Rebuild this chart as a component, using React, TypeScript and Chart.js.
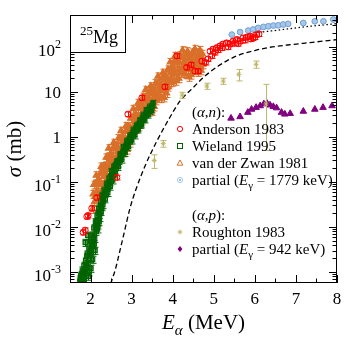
import React, { useEffect, useRef } from "react";
import { Chart, registerables } from "chart.js";

Chart.register(...registerables);

const FONT = '"Liberation Serif", "Times New Roman", Times, serif';

// ---------------- axes ----------------
const X_MIN = 1.5;
const X_MAX = 8;
const Y_MIN = 5.7e-4;
const Y_MAX = 510;
const X_TICKS = [2, 3, 4, 5, 6, 7, 8];
const X_TICK_LABELS = ["2", "3", "4", "5", "6", "7", "8"];
const X_MINOR = [2.5, 3.5, 4.5, 5.5, 6.5, 7.5];
const Y_TICKS = [1e-3, 1e-2, 1e-1, 1, 10, 100];
const Y_TICK_BASE = ["10", "10", "10", "1", "10", "10"];
const Y_TICK_EXP = ["-3", "-2", "-1", "", "", "2"];

// ---------------- (alpha,n): Anderson 1983 ----------------
const AND_E = [1.82, 1.87, 1.91, 1.94, 2.03, 2.15, 2.64, 2.91, 3.25, 3.81,
  4.10, 4.34, 4.45, 4.54, 4.62, 4.71, 4.80, 4.86, 4.91, 4.95,
  4.98, 5.02, 5.07, 5.10, 5.15, 5.20, 5.22, 5.31, 5.35, 5.39,
  5.47, 5.50, 5.56, 5.60, 5.64, 5.71, 5.75, 5.80, 5.88, 5.90,
  5.95, 6.00, 6.04, 6.10];
const AND_S = [0.0076, 0.0085, 0.017, 0.018, 0.026, 0.045, 0.126, 3.2, 7.4, 13,
  63, 35, 40, 29, 29, 48, 45, 54, 80, 63,
  89, 75, 96, 85, 105, 95, 115, 123, 100, 115,
  134, 120, 146, 118, 134, 158, 140, 165, 173, 150,
  158, 165, 187, 193];
const AND_REL_ERR = 0.12;

// ---------------- Wieland 1995 ----------------
const WIE_E = [1.74, 1.76, 1.78, 1.80, 1.82, 1.84, 1.85, 1.86, 1.87, 1.88,
  1.90, 1.92, 1.93, 1.94, 1.95, 1.96, 1.97, 1.98, 2.00, 2.01,
  2.02, 2.04, 2.05, 2.06, 2.08, 2.10, 2.11, 2.12, 2.14, 2.16,
  2.18, 2.20, 2.22, 2.24, 2.26, 2.28, 2.30, 2.33, 2.36, 2.39,
  2.42, 2.45, 2.48, 2.51, 2.54, 2.57, 2.60, 2.64, 2.68, 2.72,
  2.76, 2.80, 2.84, 2.88, 2.92, 2.96, 3.00, 3.04, 3.08, 3.12,
  3.16, 3.20, 3.24, 3.28, 3.32, 3.36, 3.40, 3.44, 3.48, 3.52,
  1.75, 1.77, 1.79, 1.81, 1.83, 1.89, 1.91, 1.99, 2.03, 2.07,
  2.09, 2.13, 2.15, 2.17, 2.19, 2.21, 2.23, 2.25, 2.27, 2.29,
  2.31, 2.35, 2.38, 2.41, 2.44, 2.47, 2.50, 2.53, 2.56, 2.59,
  2.62, 2.66, 2.70, 2.74, 2.78, 2.82, 2.86, 2.90, 2.94, 2.98,
  3.02, 3.06, 3.10, 3.14, 3.18, 3.22, 3.26, 3.30, 3.34, 3.38,
  3.42, 3.46, 3.50];
const WIE_S = [0.00062, 0.00085, 0.00070, 0.0011, 0.00075, 0.0014, 0.00062, 0.0009, 0.0045, 0.0018,
  0.0012, 0.0025, 0.0065, 0.0015, 0.00080, 0.0034, 0.0010, 0.0020, 0.0048, 0.0012,
  0.0028, 0.0065, 0.0019, 0.0040, 0.0095, 0.0055, 0.0030, 0.013, 0.0080, 0.018,
  0.011, 0.026, 0.016, 0.036, 0.022, 0.050, 0.031, 0.065, 0.042, 0.09,
  0.058, 0.12, 0.08, 0.17, 0.11, 0.22, 0.15, 0.28, 0.22, 0.40,
  0.32, 0.58, 0.45, 0.80, 0.62, 1.05, 0.85, 1.4, 1.1, 1.8,
  1.5, 2.3, 1.9, 3.0, 2.5, 3.8, 3.2, 4.6, 3.9, 5.5,
  0.0007, 0.0006, 0.0009, 0.0008, 0.0010, 0.0014, 0.0022, 0.0030, 0.0045, 0.0060,
  0.0042, 0.010, 0.013, 0.0090, 0.020, 0.013, 0.024, 0.030, 0.028, 0.040,
  0.045, 0.055, 0.06, 0.075, 0.09, 0.10, 0.13, 0.14, 0.18, 0.19,
  0.24, 0.26, 0.30, 0.38, 0.45, 0.50, 0.62, 0.70, 0.85, 0.95,
  1.15, 1.25, 1.5, 1.6, 1.9, 2.0, 2.5, 2.6, 3.2, 3.4,
  4.0, 4.2, 4.8];
const WIE_REL_ERR = 0.18;

// ---------------- van der Zwan 1981 ----------------
const ZWA_E = [2.05, 2.08, 2.11, 2.14, 2.17, 2.20, 2.23, 2.26, 2.29, 2.32,
  2.35, 2.38, 2.41, 2.44, 2.47, 2.50, 2.53, 2.56, 2.59, 2.62,
  2.65, 2.68, 2.71, 2.74, 2.77, 2.80, 2.83, 2.86, 2.89, 2.92,
  2.95, 2.98, 3.01, 3.04, 3.07, 3.10, 3.13, 3.16, 3.19, 3.22,
  3.25, 3.28, 3.31, 3.34, 3.37, 3.40, 3.43, 3.46, 3.49, 3.52,
  3.55, 3.58, 3.61, 3.64, 3.67, 3.70, 3.73, 3.76, 3.79, 3.82,
  3.85, 3.88, 3.91, 3.94, 3.97, 4.00, 4.03, 4.06, 4.09, 4.12,
  4.15, 4.18, 4.21, 4.24, 4.27, 4.30, 4.33, 4.36, 4.39, 4.42,
  4.45, 4.48, 4.51, 4.54, 4.57, 4.60, 4.63, 4.66, 4.69, 4.72,
  2.065, 2.095, 2.125, 2.155, 2.185, 2.215, 2.245, 2.275, 2.305, 2.335,
  2.365, 2.395, 2.425, 2.455, 2.485, 2.515, 2.545, 2.575, 2.605, 2.635,
  2.665, 2.695, 2.725, 2.755, 2.785, 2.815, 2.845, 2.875, 2.905, 2.935,
  2.965, 2.995, 3.025, 3.055, 3.085, 3.115, 3.145, 3.175, 3.205, 3.235,
  3.265, 3.295, 3.325, 3.355, 3.385, 3.415, 3.445, 3.475, 3.505, 3.535,
  3.565, 3.595, 3.625, 3.655, 3.685, 3.715, 3.745, 3.775, 3.805, 3.835,
  3.865, 3.895, 3.925, 3.955, 3.985, 4.015, 4.045, 4.075, 4.105, 4.135,
  4.165, 4.195, 4.225, 4.255, 4.285, 4.315, 4.345, 4.375, 4.405, 4.435,
  4.465, 4.495, 4.525, 4.555, 4.585, 4.615, 4.645, 4.675, 4.705, 4.735];
const ZWA_S = [0.025, 0.087, 0.047, 0.14, 0.051, 0.116, 0.10, 0.22, 0.068, 0.225,
  0.098, 0.35, 0.19, 0.56, 0.19, 0.42, 0.355, 0.74, 0.215, 0.65,
  0.275, 0.94, 0.48, 1.37, 0.455, 0.98, 0.82, 1.75, 0.52, 1.74,
  0.74, 2.6, 1.4, 4.2, 1.43, 3.25, 2.75, 5.7, 1.7, 5.5,
  2.3, 7.8, 4.0, 11.1, 3.6, 7.8, 6.5, 13.3, 3.75, 11.6,
  4.7, 15.6, 7.8, 22, 7.3, 15.6, 13, 26.6, 7.5, 23.2,
  9.4, 31.5, 16, 46, 16.3, 36.4, 31, 63, 17.5, 52,
  20, 65, 31, 84, 26, 53, 42, 80, 21.5, 62,
  24, 75, 36, 90, 30, 60, 47, 85, 30, 70,
  0.054, 0.036, 0.089, 0.061, 0.086, 0.053, 0.16, 0.088, 0.169, 0.132,
  0.214, 0.143, 0.351, 0.242, 0.325, 0.192, 0.568, 0.293, 0.538, 0.383,
  0.6, 0.385, 0.9, 0.585, 0.77, 0.45, 1.31, 0.69, 1.31, 1.02,
  1.62, 1.09, 2.63, 1.8, 2.42, 1.5, 4.4, 2.25, 4.25, 3.23,
  5.04, 3.22, 7.5, 4.77, 6.16, 3.6, 10.4, 5.25, 9.4, 6.8,
  10.3, 6.44, 14.7, 9.45, 12.3, 7.2, 20.8, 10.5, 18.8, 13.6,
  20.4, 13, 30, 19.8, 27.5, 16.8, 49.6, 24.8, 43.8, 30.6,
  44.4, 26.6, 58.5, 36, 44, 24.6, 67, 31.5, 54, 36.5,
  52.8, 30.8, 67.5, 40.5, 50.6, 27.6, 75, 35, 60, 40.8];
const ZWA_REL_ERR = 0.2;

// ---------------- partial (E_gamma = 1779 keV) ----------------
const P1779_E = [5.44, 5.64, 5.84, 5.96, 6.08, 6.21, 6.33, 6.45, 6.57, 6.69, 6.81, 7.18, 7.46, 7.67, 7.91];
const P1779_S = [187, 213, 230, 243, 263, 277, 287, 297, 301, 314, 324, 339, 370, 370, 405];

// ---------------- (alpha,p): Roughton 1983 ----------------
const ROU_E = [3.55, 3.77, 4.23, 4.83, 5.23, 5.61, 6.03, 6.27];
const ROU_S = [0.30, 0.71, 8.5, 13.5, 17.4, 24.5, 41, 5.4];
const ROU_ERR_LO = [0.10, 0.12, 1.3, 2.1, 2.7, 7, 7.5, 4.9];
const ROU_ERR_HI = [0.10, 0.12, 1.3, 2.1, 2.7, 7, 7.5, 9.3];

// ---------------- partial (E_gamma = 942 keV) ----------------
const P942_E = [5.42, 5.64, 5.83, 5.92, 6.03, 6.13, 6.22, 6.30, 6.37, 6.45, 6.53, 6.65, 6.73, 6.86, 7.18, 7.46, 7.66, 7.88];
const P942_S = [2.6, 2.8, 3.5, 4.1, 4.5, 4.9, 5.4, 5.5, 5.1, 4.7, 4.4, 3.5, 3.2, 3.3, 3.7, 4.1, 4.5, 4.9];

// ---------------- model curves ----------------
const DASH_E = [2.49, 2.55, 2.6, 2.7, 2.8, 2.96, 3.1, 3.33, 3.6, 3.93, 4.18, 4.5, 4.75, 5.1, 5.56, 6.0, 6.37, 6.8, 7.18, 7.6, 8.0];
const DASH_S = [5.5e-4, 8e-4, 1.1e-3, 2.6e-3, 6.3e-3, 0.026, 0.066, 0.23, 0.76, 2.7, 6.3, 12.5, 21, 37, 63, 83, 98, 110, 120, 132, 145];
const DOT_E = [6.0, 6.37, 6.8, 7.2, 7.6, 8.0];
const DOT_S = [205, 224, 250, 278, 303, 328];

// ---------------- colours ----------------
const RED = "#ff0000";
const GREEN = "#006400";
const ORANGE = "#d9702a";
const BLUE_FILL = "#a6c6ea";
const BLUE_EDGE = "#6f9fd6";
const KHAKI = "#bdb76b";
const PURPLE = "#800080";

type Seg = { t: string; it?: boolean; sub?: boolean; sup?: boolean };

function segSize(s: Seg, size: number) {
  return s.sub || s.sup ? Math.round(size * 0.7) : size;
}
function segFont(s: Seg, size: number) {
  return `${s.it ? "italic " : ""}${segSize(s, size)}px ${FONT}`;
}
function richWidth(ctx: CanvasRenderingContext2D, segs: Seg[], size: number) {
  let w = 0;
  for (const s of segs) {
    ctx.font = segFont(s, size);
    w += ctx.measureText(s.t).width;
  }
  return w;
}
function drawRich(ctx: CanvasRenderingContext2D, segs: Seg[], x: number, y: number, size: number, align: "left" | "center" | "right") {
  const w = richWidth(ctx, segs, size);
  let cx = align === "left" ? x : align === "center" ? x - w / 2 : x - w;
  ctx.textAlign = "left";
  ctx.textBaseline = "alphabetic";
  for (const s of segs) {
    ctx.font = segFont(s, size);
    const dy = s.sub ? size * 0.28 : s.sup ? -size * 0.42 : 0;
    ctx.fillText(s.t, cx, y + dy);
    cx += ctx.measureText(s.t).width;
  }
}

const pts = (E: number[], S: number[]) => E.map((x, i) => ({ x, y: S[i] }));
const relErr = (S: number[], r: number) => S.map((v) => v * r);

const errorBarPlugin = {
  id: "errBars",
  beforeDatasetDraw(chart: any, args: any) {
    const ds: any = chart.data.datasets[args.index];
    if (!ds.errLo) return;
    const { ctx, chartArea: a } = chart;
    const xs = chart.scales.x;
    const ys = chart.scales.y;
    ctx.save();
    ctx.beginPath();
    ctx.rect(a.left, a.top, a.right - a.left, a.bottom - a.top);
    ctx.clip();
    ctx.strokeStyle = ds.errColor;
    ctx.lineWidth = 1;
    ctx.beginPath();
    ds.data.forEach((p: any, i: number) => {
      const px = Math.round(xs.getPixelForValue(p.x)) + 0.5;
      const lo = Math.max(p.y - ds.errLo[i], Y_MIN * 0.3);
      const y1 = ys.getPixelForValue(lo);
      const y2 = ys.getPixelForValue(p.y + ds.errHi[i]);
      const c = ds.capHalf;
      ctx.moveTo(px, y1);
      ctx.lineTo(px, y2);
      ctx.moveTo(px - c, y1);
      ctx.lineTo(px + c, y1);
      ctx.moveTo(px - c, y2);
      ctx.lineTo(px + c, y2);
    });
    ctx.stroke();
    ctx.restore();
  },
};

function drawMarker(ctx: CanvasRenderingContext2D, kind: string, x: number, y: number) {
  ctx.save();
  ctx.lineWidth = 1;
  if (kind === "circle") {
    ctx.strokeStyle = RED;
    ctx.beginPath();
    ctx.arc(x, y, 2.6, 0, Math.PI * 2);
    ctx.stroke();
  } else if (kind === "square") {
    ctx.strokeStyle = GREEN;
    ctx.strokeRect(x - 2.5, y - 2.5, 5, 5);
  } else if (kind === "triangle") {
    ctx.strokeStyle = ORANGE;
    ctx.beginPath();
    ctx.moveTo(x, y - 3);
    ctx.lineTo(x + 2.8, y + 2.2);
    ctx.lineTo(x - 2.8, y + 2.2);
    ctx.closePath();
    ctx.stroke();
  } else if (kind === "blue") {
    ctx.strokeStyle = BLUE_FILL;
    ctx.beginPath();
    ctx.arc(x, y, 2.6, 0, Math.PI * 2);
    ctx.stroke();
    ctx.fillStyle = BLUE_EDGE;
    ctx.beginPath();
    ctx.arc(x, y, 0.9, 0, Math.PI * 2);
    ctx.fill();
  } else if (kind === "star") {
    ctx.strokeStyle = KHAKI;
    ctx.beginPath();
    for (let k = 0; k < 3; k++) {
      const ang = (k * Math.PI) / 3 + Math.PI / 2;
      ctx.moveTo(x - 2.5 * Math.cos(ang), y - 2.5 * Math.sin(ang));
      ctx.lineTo(x + 2.5 * Math.cos(ang), y + 2.5 * Math.sin(ang));
    }
    ctx.stroke();
  } else if (kind === "diamond") {
    ctx.fillStyle = PURPLE;
    ctx.beginPath();
    ctx.moveTo(x, y - 3);
    ctx.lineTo(x + 2.4, y);
    ctx.lineTo(x, y + 3);
    ctx.lineTo(x - 2.4, y);
    ctx.closePath();
    ctx.fill();
  }
  ctx.restore();
}

const LEGEND_ROWS: { y: number; mark?: string; segs: Seg[] }[] = [
  { y: 112, segs: [{ t: "(" }, { t: "α", it: true }, { t: "," }, { t: "n", it: true }, { t: "):" }] },
  { y: 129, mark: "circle", segs: [{ t: "Anderson 1983" }] },
  { y: 146, mark: "square", segs: [{ t: "Wieland 1995" }] },
  { y: 163, mark: "triangle", segs: [{ t: "van der Zwan 1981" }] },
  { y: 180, mark: "blue", segs: [{ t: "partial (" }, { t: "E", it: true }, { t: "γ", sub: true }, { t: " = 1779 keV)" }] },
  { y: 215, segs: [{ t: "(" }, { t: "α", it: true }, { t: "," }, { t: "p", it: true }, { t: "):" }] },
  { y: 232, mark: "star", segs: [{ t: "Roughton 1983" }] },
  { y: 249, mark: "diamond", segs: [{ t: "partial (" }, { t: "E", it: true }, { t: "γ", sub: true }, { t: " = 942 keV)" }] },
];

const decorPlugin = {
  id: "decor",
  afterDatasetsDraw(chart: any) {
    const { ctx, chartArea: a } = chart;
    const xs = chart.scales.x;
    const ys = chart.scales.y;
    ctx.save();
    ctx.strokeStyle = "#000";
    ctx.fillStyle = "#000";
    ctx.lineWidth = 1;
    const MAJ = 8;
    const MIN = 4.5;
    ctx.beginPath();
    const xt = (v: number, len: number) => {
      const px = Math.round(xs.getPixelForValue(v)) + 0.5;
      ctx.moveTo(px, a.bottom);
      ctx.lineTo(px, a.bottom - len);
      ctx.moveTo(px, a.top);
      ctx.lineTo(px, a.top + len);
    };
    X_TICKS.forEach((v) => xt(v, MAJ));
    X_MINOR.forEach((v) => xt(v, MIN));
    const yt = (v: number, len: number) => {
      const py = Math.round(ys.getPixelForValue(v)) + 0.5;
      if (py < a.top || py > a.bottom) return;
      ctx.moveTo(a.left, py);
      ctx.lineTo(a.left + len, py);
      ctx.moveTo(a.right, py);
      ctx.lineTo(a.right - len, py);
    };
    for (let e = -4; e <= 2; e++) {
      for (let k = 2; k <= 9; k++) yt(k * Math.pow(10, e), MIN);
    }
    Y_TICKS.forEach((v) => yt(v, MAJ));
    ctx.stroke();
    ctx.strokeRect(a.left + 0.5, a.top + 0.5, a.right - a.left - 1, a.bottom - a.top - 1);

    // nucleus label box
    ctx.fillStyle = "#fff";
    ctx.fillRect(a.left + 0.5, a.top + 0.5, 55, 37);
    ctx.strokeRect(a.left + 0.5, a.top + 0.5, 55, 37);
    ctx.fillStyle = "#000";
    ctx.textAlign = "left";
    ctx.textBaseline = "alphabetic";
    ctx.font = `13px ${FONT}`;
    ctx.fillText("25", a.left + 10, a.top + 20);
    const w25 = ctx.measureText("25").width;
    ctx.font = `18px ${FONT}`;
    ctx.fillText("Mg", a.left + 10 + w25, a.top + 28);

    // tick labels
    X_TICKS.forEach((v, i) => {
      ctx.font = `17px ${FONT}`;
      ctx.textAlign = "center";
      ctx.fillText(X_TICK_LABELS[i], xs.getPixelForValue(v), a.bottom + 21);
    });
    Y_TICKS.forEach((v, i) => {
      const py = ys.getPixelForValue(v);
      const exp = Y_TICK_EXP[i];
      const right = a.left - 9;
      ctx.textAlign = "left";
      if (exp) {
        ctx.font = `12px ${FONT}`;
        const we = ctx.measureText(exp).width;
        ctx.font = `17px ${FONT}`;
        const wb = ctx.measureText(Y_TICK_BASE[i]).width;
        const x0 = right - we - wb;
        ctx.fillText(Y_TICK_BASE[i], x0, py + 9);
        ctx.font = `12px ${FONT}`;
        ctx.fillText(exp, x0 + wb, py + 1);
      } else {
        ctx.font = `17px ${FONT}`;
        ctx.textAlign = "right";
        ctx.fillText(Y_TICK_BASE[i], right, py + 6);
      }
    });

    // axis titles
    drawRich(ctx, [{ t: "E", it: true }, { t: "α", it: true, sub: true }, { t: " (MeV)" }], (a.left + a.right) / 2, 329, 21, "center");
    ctx.save();
    ctx.translate(21, (a.top + a.bottom) / 2);
    ctx.rotate(-Math.PI / 2);
    drawRich(ctx, [{ t: "σ", it: true }, { t: " (mb)" }], 0, 0, 21, "center");
    ctx.restore();

    // legend
    ctx.fillStyle = "#000";
    LEGEND_ROWS.forEach((r) => {
      if (r.mark) drawMarker(ctx, r.mark, 180, r.y);
      ctx.fillStyle = "#000";
      drawRich(ctx, r.segs, 192, r.y + 5, 15, "left");
    });
    ctx.restore();
  },
};

export default function App() {
  const ref = useRef<HTMLCanvasElement | null>(null);
  useEffect(() => {
    document.body.style.margin = "0";
    const canvas = ref.current;
    if (!canvas) return;
    const datasets: any[] = [
      {
        label: "Anderson 1983",
        data: pts(AND_E, AND_S),
        pointStyle: "circle",
        pointRadius: 3,
        borderColor: RED,
        backgroundColor: "rgba(0,0,0,0)",
        borderWidth: 1,
        errLo: relErr(AND_S, AND_REL_ERR),
        errHi: relErr(AND_S, AND_REL_ERR),
        errColor: RED,
        capHalf: 3,
        order: 0,
        clip: 0,
      },
      {
        label: "Wieland 1995",
        data: pts(WIE_E, WIE_S),
        pointStyle: "rect",
        pointRadius: 3,
        borderColor: GREEN,
        backgroundColor: "rgba(0,100,0,0.6)",
        borderWidth: 1.2,
        errLo: relErr(WIE_S, WIE_REL_ERR),
        errHi: relErr(WIE_S, WIE_REL_ERR),
        errColor: GREEN,
        capHalf: 3,
        order: 1,
        clip: 0,
      },
      {
        label: "van der Zwan 1981",
        data: pts(ZWA_E, ZWA_S),
        pointStyle: "triangle",
        pointRadius: 3.6,
        borderColor: ORANGE,
        backgroundColor: ORANGE,
        borderWidth: 1.2,
        errLo: relErr(ZWA_S, ZWA_REL_ERR),
        errHi: relErr(ZWA_S, ZWA_REL_ERR),
        errColor: ORANGE,
        capHalf: 3,
        order: 2,
        clip: 0,
      },
      {
        label: "Roughton 1983",
        data: pts(ROU_E, ROU_S),
        pointStyle: "star",
        pointRadius: 2.5,
        borderColor: KHAKI,
        backgroundColor: KHAKI,
        borderWidth: 1,
        errLo: ROU_ERR_LO,
        errHi: ROU_ERR_HI,
        errColor: KHAKI,
        capHalf: 3,
        order: 3,
        clip: 0,
      },
      {
        label: "partial 1779",
        data: pts(P1779_E, P1779_S),
        pointStyle: "circle",
        pointRadius: 2.9,
        borderColor: BLUE_EDGE,
        backgroundColor: BLUE_FILL,
        borderWidth: 1,
        order: 4,
        clip: 0,
      },
      {
        label: "partial 942",
        data: pts(P942_E, P942_S),
        pointStyle: "triangle",
        pointRadius: 3.8,
        borderColor: PURPLE,
        backgroundColor: PURPLE,
        borderWidth: 1,
        order: 5,
        clip: 0,
      },
      {
        label: "dashed",
        data: pts(DASH_E, DASH_S),
        showLine: true,
        pointRadius: 0,
        borderColor: "#000",
        borderWidth: 1.3,
        borderDash: [5, 3],
        cubicInterpolationMode: "monotone",
        fill: false,
        order: 6,
        clip: 0,
      },
      {
        label: "dotted",
        data: pts(DOT_E, DOT_S),
        showLine: true,
        pointRadius: 0,
        borderColor: "#000",
        borderWidth: 1.3,
        borderDash: [1.5, 2.5],
        cubicInterpolationMode: "monotone",
        fill: false,
        order: 7,
        clip: 0,
      },
    ];
    const chart = new Chart(canvas, {
      type: "scatter",
      data: { datasets },
      options: {
        animation: false,
        responsive: false,
        devicePixelRatio: 1,
        events: [],
        layout: { padding: { left: 70, right: 16, top: 15, bottom: 55 } },
        scales: {
          x: { type: "linear", min: X_MIN, max: X_MAX, display: false },
          y: { type: "logarithmic", min: Y_MIN, max: Y_MAX, display: false },
        },
        plugins: { legend: { display: false }, tooltip: { enabled: false } },
      },
      plugins: [errorBarPlugin, decorPlugin],
    } as any);
    return () => chart.destroy();
  }, []);
  return (
    <div style={{ width: 353, height: 338 }}>
      <canvas ref={ref} width={353} height={338} style={{ display: "block" }} />
    </div>
  );
}
